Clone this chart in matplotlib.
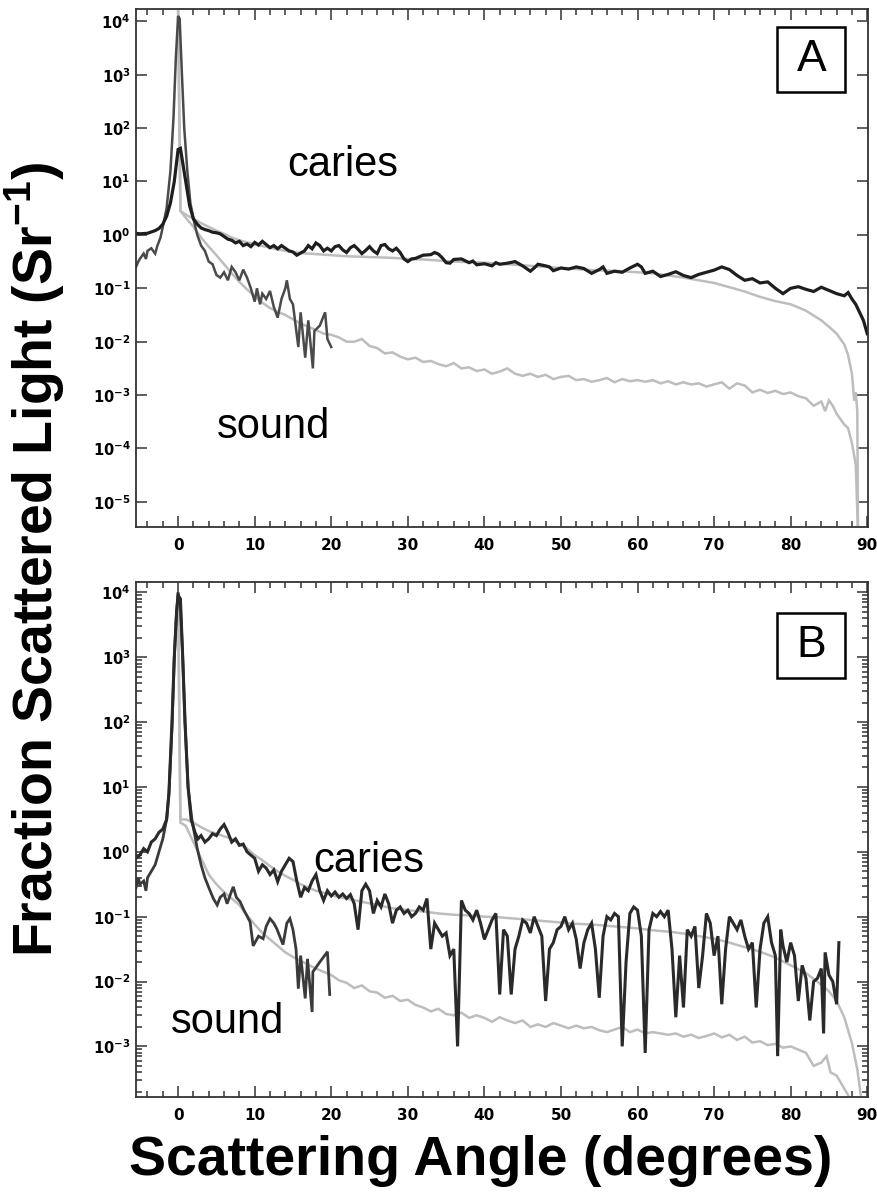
import numpy as np
import matplotlib.pyplot as plt
from matplotlib.patches import Rectangle
from matplotlib.ticker import FixedLocator, FuncFormatter, MultipleLocator

# Values: angle (deg) and log10 of scattered fraction
# Panel A - caries, measured
aCariesX = [-5.5, -5, -4, -3, -2.5, -2, -1.5, -1, -0.5, 0, 0.3, 0.6, 1, 1.5, 2, 2.5, 3, 3.5, 4, 4.5,
            5, 5.5, 6, 6.5, 7, 7.5, 8, 8.5, 9, 9.5, 10, 10.5, 11, 11.5, 12, 12.5, 13, 13.5, 14, 14.5,
            15, 15.5, 16, 16.5, 17, 17.5, 18, 18.5, 19, 19.5, 20, 20.5, 21, 21.5, 22, 22.5, 23, 23.5,
            24, 24.5, 25, 25.5, 26, 26.5, 27, 27.5, 28, 28.5, 29, 29.5, 30, 30.5, 31, 32, 33, 33.5,
            34, 34.5, 35, 35.5, 36, 37, 38, 38.5, 39, 40, 41, 41.5, 42, 43, 44, 45, 46, 46.5, 47, 48,
            48.5, 49, 50, 51, 52, 53, 54, 55, 55.5, 56, 57, 58, 59, 60, 60.5, 61, 62, 63, 64, 65, 66,
            67, 68, 69, 70, 71, 72, 73, 74, 75, 76, 77, 78, 79, 80, 81, 82, 83, 84, 85, 86, 87, 87.5,
            88, 88.5, 89, 89.5, 90]
aCariesLog = [0.03, 0.02, 0.03, 0.08, 0.12, 0.2, 0.35, 0.6, 1.0, 1.6, 1.62, 1.35, 1.0, 0.55, 0.3, 0.2,
              0.13, 0.1, 0.08, 0.05, 0.04, 0.02, -0.03, -0.08, -0.1, -0.15, -0.12, -0.2, -0.17, -0.22,
              -0.14, -0.19, -0.12, -0.18, -0.24, -0.2, -0.26, -0.2, -0.25, -0.3, -0.32, -0.38, -0.34,
              -0.3, -0.2, -0.26, -0.15, -0.2, -0.3, -0.25, -0.3, -0.22, -0.2, -0.28, -0.33, -0.24, -0.2,
              -0.27, -0.35, -0.29, -0.22, -0.3, -0.35, -0.2, -0.18, -0.26, -0.3, -0.25, -0.33, -0.45,
              -0.5, -0.45, -0.44, -0.38, -0.37, -0.33, -0.36, -0.43, -0.52, -0.53, -0.46, -0.45, -0.52,
              -0.49, -0.56, -0.54, -0.58, -0.52, -0.55, -0.53, -0.5, -0.58, -0.68, -0.62, -0.55, -0.58,
              -0.6, -0.67, -0.62, -0.64, -0.6, -0.63, -0.72, -0.65, -0.6, -0.72, -0.68, -0.7, -0.62,
              -0.55, -0.6, -0.72, -0.68, -0.78, -0.74, -0.69, -0.76, -0.8, -0.74, -0.7, -0.66, -0.6,
              -0.65, -0.76, -0.85, -0.82, -0.9, -0.88, -1.0, -1.1, -1.0, -0.97, -1.02, -1.06, -0.98,
              -1.04, -1.1, -1.14, -1.08, -1.2, -1.3, -1.45, -1.6, -1.85]

# Panel A - caries, model
aCariesFitX = [0, 0.3, 1, 2, 3, 4, 5, 6, 7, 8, 9, 10, 12, 14, 16, 18, 20, 22, 24, 26, 28, 30, 32, 34,
               36, 38, 40, 42, 44, 46, 48, 50, 52, 54, 56, 58, 60, 62, 64, 66, 68, 70, 72, 74, 76, 78,
               80, 82, 84, 85, 86, 87, 87.5, 88, 88.3, 88.5, 88.7, 88.8]
aCariesFitLog = [4.2, 0.45, 0.38, 0.3, 0.22, 0.15, 0.08, 0.02, -0.05, -0.1, -0.14, -0.18, -0.24, -0.3,
                 -0.34, -0.36, -0.38, -0.4, -0.41, -0.42, -0.43, -0.45, -0.46, -0.48, -0.5, -0.51,
                 -0.52, -0.54, -0.56, -0.58, -0.6, -0.62, -0.64, -0.66, -0.67, -0.68, -0.7, -0.72,
                 -0.76, -0.8, -0.85, -0.9, -0.98, -1.06, -1.16, -1.24, -1.3, -1.42, -1.6, -1.72, -1.85,
                 -2.05, -2.25, -2.6, -3.1, -2.95, -3.3, -5.6]

# Panel A - sound, model
aSoundFitX = [0, 0.3, 1, 2, 3, 4, 5, 6, 7, 8, 9, 10, 11, 12, 13, 14, 15, 16, 17, 18, 19, 20, 21, 22,
              23, 24, 25, 26, 27, 28, 29, 30, 31, 32, 33, 34, 35, 36, 37, 38, 39, 40, 41, 42, 43, 44,
              45, 46, 47, 48, 49, 50, 51, 52, 53, 54, 55, 56, 57, 58, 59, 60, 61, 62, 63, 64, 65, 66,
              67, 68, 69, 70, 71, 72, 73, 74, 75, 76, 77, 78, 79, 80, 81, 82, 83, 84, 84.5, 85, 85.5,
              86, 86.5, 87, 87.5, 88, 88.5, 88.8]
aSoundFitLog = [4.2, 0.45, 0.32, 0.15, -0.05, -0.22, -0.38, -0.55, -0.72, -0.88, -1.02, -1.15, -1.27,
                -1.37, -1.44, -1.5, -1.58, -1.66, -1.72, -1.78, -1.85, -1.87, -1.92, -2.0, -2.0, -1.95,
                -2.08, -2.12, -2.22, -2.2, -2.28, -2.33, -2.3, -2.38, -2.36, -2.42, -2.46, -2.4, -2.5,
                -2.48, -2.55, -2.52, -2.6, -2.56, -2.5, -2.6, -2.64, -2.6, -2.66, -2.62, -2.7, -2.66,
                -2.64, -2.72, -2.7, -2.75, -2.72, -2.68, -2.76, -2.7, -2.74, -2.72, -2.75, -2.72, -2.78,
                -2.74, -2.8, -2.76, -2.8, -2.78, -2.84, -2.8, -2.76, -2.88, -2.78, -2.82, -2.95, -2.9,
                -2.96, -2.92, -2.98, -2.95, -3.02, -3.06, -3.2, -3.12, -3.3, -3.1, -3.2, -3.35, -3.45,
                -3.55, -3.62, -3.9, -4.3, -5.6]

# Panel A - sound, measured
aSoundX = [-5.5, -5.2, -5, -4.5, -4.2, -4, -3.5, -3, -2.7, -2.3, -2, -1.5, -1, -0.6, -0.3, 0, 0.2,
           0.5, 0.8, 1.2, 1.6, 2, 2.5, 3, 3.5, 4, 4.5, 5, 5.5, 6, 6.5, 7, 7.5, 8, 8.5, 9, 9.5, 10,
           10.3, 10.7, 11, 11.5, 12, 12.5, 13, 13.5, 14, 14.2, 14.6, 15, 15.7, 16, 16.6, 17, 17.6,
           17.8, 18.5, 19.2, 19.5, 20]
aSoundLog = [-0.6, -0.5, -0.45, -0.35, -0.45, -0.3, -0.25, -0.35, -0.2, -0.05, 0.15, 0.5, 1.2, 2.2,
             3.3, 4.1, 4.05, 3.0, 2.0, 1.2, 0.6, 0.3, 0.0, -0.2, -0.3, -0.5, -0.55, -0.75, -0.8, -0.7,
             -0.85, -0.6, -0.7, -0.85, -0.65, -0.8, -1.0, -1.25, -1.0, -1.3, -1.1, -1.2, -1.05,
             -1.35, -1.55, -1.2, -1.0, -0.85, -1.2, -1.3, -2.1, -1.45, -2.3, -1.6, -2.5, -1.8, -1.7,
             -1.45, -1.95, -2.1]

# Panel B - caries, measured
bCariesX = [-5.5, -5, -4.5, -4, -3.5, -3, -2.5, -2, -1.5, -1.2, -0.8, -0.5, -0.2, 0, 0.3, 0.6, 0.9,
            1.3, 1.7, 2.2, 2.6, 3, 3.5, 4, 4.5, 5, 5.5, 6, 6.5, 7, 7.5, 8, 8.5, 9, 9.5, 10, 10.5, 11,
            11.5, 12, 12.5, 13, 13.5, 14, 14.5, 15, 15.5, 16, 16.5, 17, 17.5, 18, 18.5, 19, 19.5, 20,
            20.5, 21, 21.5, 22, 22.5, 23, 23.5, 24, 24.5, 25, 25.5, 26, 26.5, 27, 27.5, 28, 28.5, 29,
            29.5, 30, 30.5, 31, 31.5, 32, 32.5, 33, 33.5, 34, 34.5, 35, 35.5, 36, 36.5, 37, 37.5, 38,
            38.5, 39, 39.5, 40, 40.5, 41, 41.5, 42, 42.5, 43, 43.5, 44, 44.5, 45, 45.5, 46, 46.5, 47,
            47.5, 48, 48.5, 49, 49.5, 50, 50.5, 51, 51.5, 52, 52.5, 53, 53.5, 54, 54.5, 55, 55.5, 56,
            56.5, 57, 57.5, 58, 58.5, 59, 59.5, 60, 60.5, 61, 61.5, 62, 62.5, 63, 63.5, 64, 64.5, 65,
            65.5, 66, 66.5, 67, 67.5, 68, 68.5, 69, 69.5, 70, 70.5, 71, 71.5, 72, 72.5, 73, 73.5, 74,
            74.5, 75, 75.5, 76, 76.5, 77, 77.5, 78, 78.3, 78.7, 79, 79.5, 80, 80.5, 81, 81.5, 82, 82.5,
            83, 83.5, 84, 84.3, 84.5, 85, 85.5, 86, 86.3]
bCariesLog = [-0.1, -0.05, 0.05, 0.0, 0.15, 0.2, 0.3, 0.35, 0.5, 0.9, 2.0, 3.0, 3.7, 3.95, 3.9, 3.0,
              2.0, 1.0, 0.5, 0.3, 0.2, 0.25, 0.15, 0.2, 0.28, 0.25, 0.35, 0.42, 0.3, 0.15, 0.2, 0.1,
              0.12, 0.0, -0.05, -0.1, -0.3, -0.2, -0.25, -0.35, -0.28, -0.46, -0.3, -0.2, -0.1, -0.15,
              -0.45, -0.7, -0.55, -0.6, -0.45, -0.35, -0.6, -0.75, -0.6, -0.68, -0.62, -0.7, -0.65,
              -0.72, -0.66, -0.8, -1.2, -0.6, -0.5, -0.6, -0.95, -0.75, -0.85, -0.65, -0.8, -1.1, -0.9,
              -0.85, -0.95, -0.9, -1.0, -0.95, -0.85, -0.9, -0.72, -1.5, -1.1, -1.2, -1.3, -1.25, -1.6,
              -1.5, -3.0, -0.75, -0.9, -0.95, -1.05, -0.9, -1.1, -1.35, -1.2, -1.05, -0.95, -2.2, -1.2,
              -1.3, -2.2, -1.5, -1.3, -1.05, -1.1, -1.25, -1.0, -1.15, -1.3, -2.3, -1.5, -1.4, -1.2,
              -1.15, -1.0, -1.2, -1.1, -1.35, -1.8, -1.4, -1.2, -1.1, -1.5, -2.25, -1.3, -1.0, -1.05,
              -0.95, -1.0, -3.0, -1.7, -0.95, -0.85, -0.9, -1.3, -3.1, -1.2, -0.95, -1.0, -0.92, -1.0,
              -0.9, -1.5, -2.55, -1.6, -2.4, -1.2, -1.3, -1.15, -2.1, -1.6, -0.95, -1.1, -1.6, -1.3,
              -2.35, -1.5, -1.0, -1.1, -1.2, -1.05, -1.3, -1.5, -1.4, -2.4, -1.5, -1.1, -1.0, -1.4,
              -1.6, -3.15, -1.2, -1.45, -1.7, -1.4, -1.6, -2.3, -1.75, -1.95, -2.6, -2.0, -1.95, -1.8,
              -2.8, -1.55, -1.9, -2.0, -2.35, -1.4]

# Panel B - caries, model
bCariesFitX = [0, 0.3, 1, 2, 3, 4, 5, 6, 7, 8, 9, 10, 11, 12, 13, 14, 15, 16, 17, 18, 19, 20, 22, 24,
               26, 28, 30, 32, 34, 36, 38, 40, 42, 44, 46, 48, 50, 52, 54, 56, 58, 60, 62, 64, 66, 68,
               70, 72, 74, 76, 78, 80, 82, 84, 85, 86, 87, 88, 88.7, 89.2]
bCariesFitLog = [3.95, 0.5, 0.5, 0.45, 0.38, 0.32, 0.28, 0.24, 0.2, 0.12, 0.05, -0.05, -0.13, -0.22,
                 -0.3, -0.37, -0.43, -0.5, -0.55, -0.6, -0.63, -0.67, -0.72, -0.77, -0.82, -0.87, -0.9,
                 -0.92, -0.95, -0.97, -0.98, -1.0, -1.01, -1.03, -1.05, -1.07, -1.09, -1.11, -1.12,
                 -1.14, -1.16, -1.18, -1.21, -1.23, -1.26, -1.3, -1.34, -1.4, -1.47, -1.54, -1.63,
                 -1.75, -1.87, -2.05, -2.15, -2.3, -2.55, -2.95, -3.35, -3.8]

# Panel B - sound, model
bSoundFitX = [0, 0.3, 1, 2, 3, 4, 5, 6, 7, 8, 9, 10, 11, 12, 13, 14, 15, 16, 17, 18, 19, 20, 21, 22,
              23, 24, 25, 26, 27, 28, 29, 30, 31, 32, 33, 34, 35, 36, 37, 38, 39, 40, 41, 42, 43, 44,
              45, 46, 47, 48, 49, 50, 51, 52, 53, 54, 55, 56, 57, 58, 59, 60, 61, 62, 63, 64, 65, 66,
              67, 68, 69, 70, 71, 72, 73, 74, 75, 76, 77, 78, 79, 80, 81, 82, 83, 84, 84.7, 85.2, 86,
              87, 87.5, 88]
bSoundFitLog = [3.95, 0.45, 0.4, 0.15, -0.1, -0.35, -0.5, -0.62, -0.72, -0.82, -0.98, -1.12, -1.25,
                -1.35, -1.45, -1.55, -1.62, -1.68, -1.74, -1.8, -1.85, -1.9, -1.98, -2.02, -2.1, -2.06,
                -2.15, -2.17, -2.25, -2.22, -2.3, -2.28, -2.36, -2.4, -2.46, -2.42, -2.5, -2.52, -2.48,
                -2.56, -2.52, -2.56, -2.62, -2.55, -2.6, -2.64, -2.6, -2.7, -2.66, -2.7, -2.64, -2.68,
                -2.72, -2.68, -2.72, -2.7, -2.75, -2.78, -2.74, -2.7, -2.78, -2.74, -2.8, -2.78, -2.8,
                -2.82, -2.8, -2.85, -2.82, -2.87, -2.84, -2.8, -2.86, -2.82, -2.9, -2.85, -2.94, -2.92,
                -2.98, -2.96, -3.02, -3.0, -3.05, -3.1, -3.3, -3.25, -3.15, -3.4, -3.45, -3.65, -3.75,
                -3.9]

# Panel B - sound, measured
bSoundX = [-5.5, -5.2, -5, -4.5, -4.2, -4, -3.5, -3, -2.5, -2, -1.5, -1.2, -0.8, -0.5, -0.2, 0, 0.3,
           0.6, 0.9, 1.3, 1.8, 2.5, 3, 3.5, 4, 4.6, 5.1, 5.5, 6, 6.4, 7, 7.2, 7.6, 8.1, 8.6, 9.4, 9.8,
           10.5, 11.1, 11.5, 12, 12.5, 12.9, 13.7, 14.2, 14.6, 15, 15.4, 15.7, 16, 16.6, 16.9, 17.5,
           17.6, 18.5, 19.5, 19.8]
bSoundLog = [-0.55, -0.4, -0.5, -0.45, -0.6, -0.4, -0.3, -0.2, 0.0, 0.2, 0.5, 0.9, 1.9, 3.0, 3.7, 4.0,
             3.8, 3.0, 2.0, 1.0, 0.5, 0.05, -0.2, -0.4, -0.55, -0.72, -0.82, -0.7, -0.65, -0.8, -0.6,
             -0.54, -0.7, -0.77, -0.9, -1.08, -1.45, -1.3, -1.34, -1.15, -1.03, -1.1, -1.19, -1.43,
             -1.1, -1.03, -1.2, -1.5, -2.11, -1.6, -2.26, -1.65, -2.47, -1.85, -1.7, -1.54, -2.2]

darkGrey = '#3a3a3a'
lightGrey = '#bdbdbd'

plt.rcParams['mathtext.fontset'] = 'dejavusans'

fig = plt.figure(figsize=(8.78, 12.01), dpi=100)
axA = fig.add_axes([136/878, 1-527/1201, 732/878, 518/1201])
axB = fig.add_axes([136/878, 1-1097/1201, 732/878, 515/1201])

def tick_label(v, pos):
    return r'$\mathbf{10^{%d}}$' % int(round(np.log10(v)))

def style(ax, lo, hi, minor):
    ax.set_yscale('log')
    ax.set_xlim(-5.5, 90.1)
    ax.set_ylim(10.0**lo, 10.0**hi)
    ax.xaxis.set_major_locator(MultipleLocator(10))
    ax.xaxis.set_minor_locator(MultipleLocator(2))
    decades = [10.0**k for k in range(int(np.ceil(lo)), int(np.floor(hi)) + 1)]
    ax.yaxis.set_major_locator(FixedLocator(decades))
    if minor:
        subs = [m * 10.0**k for k in range(int(np.floor(lo)), int(np.floor(hi)) + 1)
                for m in range(2, 10) if lo < np.log10(m * 10.0**k) < hi]
        ax.yaxis.set_minor_locator(FixedLocator(subs))
    else:
        ax.yaxis.set_minor_locator(FixedLocator([]))
    ax.yaxis.set_major_formatter(FuncFormatter(tick_label))
    ax.tick_params(which='both', direction='in', top=True, right=True, color='#333333', width=1.1)
    ax.tick_params(which='major', length=8)
    ax.tick_params(which='minor', length=4)
    ax.tick_params(axis='y', labelsize=10.5, pad=4)
    ax.tick_params(axis='x', labelsize=11, pad=8)
    for t in ax.get_xticklabels():
        t.set_fontweight('bold')
    for s in ax.spines.values():
        s.set_color('#333333')
        s.set_linewidth(1.3)

def plot_series(ax, x, logy, color, lw):
    ax.plot(x, np.power(10.0, logy), color=color, lw=lw, solid_joinstyle='miter')

def panel_box(ax, letter, y0):
    ax.add_patch(Rectangle((0.876, y0), 0.093, 0.126, transform=ax.transAxes,
                           fc='white', ec='black', lw=1.8, zorder=5))
    ax.text(0.876 + 0.0465, y0 + 0.063, letter, transform=ax.transAxes, fontsize=32,
            family='Liberation Sans', ha='center', va='center', zorder=6)

# Panel A
plot_series(axA, aSoundFitX, aSoundFitLog, lightGrey, 1.8)
plot_series(axA, aCariesFitX, aCariesFitLog, lightGrey, 1.8)
plot_series(axA, aSoundX, aSoundLog, '#4a4a4a', 1.8)
plot_series(axA, aCariesX, aCariesLog, '#1e1e1e', 2.3)
style(axA, -5.47, 4.23, False)
axA.text(14.2, 10**1.1, 'caries', fontsize=30, family='Liberation Sans', va='baseline')
axA.text(5.1, 10**-3.8, 'sound', fontsize=30, family='Liberation Sans', va='baseline')
panel_box(axA, 'A', 0.84)

# Panel B
plot_series(axB, bSoundFitX, bSoundFitLog, lightGrey, 1.8)
plot_series(axB, bCariesFitX, bCariesFitLog, lightGrey, 1.8)
plot_series(axB, bSoundX, bSoundLog, darkGrey, 2.0)
plot_series(axB, bCariesX, bCariesLog, '#2a2a2a', 2.2)
style(axB, -3.78, 4.16, True)
axB.text(17.6, 10**-0.31, 'caries', fontsize=30, family='Liberation Sans', va='baseline')
axB.text(-1.0, 10**-2.8, 'sound', fontsize=30, family='Liberation Sans', va='baseline')
panel_box(axB, 'B', 0.814)

fig.text(0.04, 0.534, r'Fraction Scattered Light (Sr$^{\mathdefault{-1}}$)', rotation=90,
         fontsize=40, fontweight='bold', family='Liberation Sans', ha='center', va='center')
fig.text(0.547, 0.033, 'Scattering Angle (degrees)', fontsize=40, fontweight='bold',
         family='Liberation Sans', ha='center', va='center')

fig.savefig('out.png', dpi=100)
